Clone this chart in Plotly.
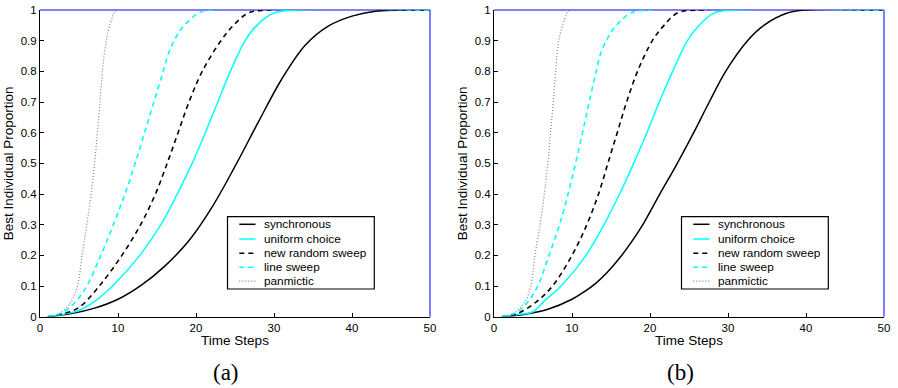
import plotly.graph_objects as go

# ---------------- data ----------------
SERIES_NAMES = ["synchronous", "uniform choice", "new random sweep", "line sweep", "panmictic"]

X_TICKS = [0, 10, 20, 30, 40, 50]
Y_TICKS = [0, 0.1, 0.2, 0.3, 0.4, 0.5, 0.6, 0.7, 0.8, 0.9, 1]

# Panel (a)
A_SYNC_T = [1, 4, 7, 10, 13, 16, 19, 22, 25, 28, 31, 34, 37, 40, 43, 50]
A_SYNC_Y = [0, 0.01, 0.028, 0.057, 0.103, 0.165, 0.245, 0.355, 0.49, 0.635, 0.775, 0.885, 0.948, 0.98, 0.996, 1]
A_UNIF_T = [1, 3, 5, 7, 9.3, 12.8, 15.5, 17.6, 19.5, 21.2, 22.8, 24.4, 26.3, 27.8, 30, 33, 50]
A_UNIF_Y = [0, 0.008, 0.02, 0.05, 0.1, 0.2, 0.3, 0.4, 0.5, 0.6, 0.7, 0.8, 0.9, 0.95, 0.99, 1, 1]
A_NRS_T = [1, 3, 5, 7.6, 10.5, 12.9, 14.8, 16.3, 17.7, 19.1, 20.8, 23.2, 24.8, 26.7, 29, 50]
A_NRS_Y = [0, 0.01, 0.03, 0.1, 0.2, 0.3, 0.4, 0.5, 0.6, 0.7, 0.8, 0.9, 0.95, 0.99, 1, 1]
A_LINE_T = [1, 3, 4.6, 6.0, 7.8, 9.4, 10.9, 12.2, 13.4, 14.6, 15.8, 16.5, 17.2, 18.0, 19.0, 20.3, 22, 50]
A_LINE_Y = [0, 0.015, 0.05, 0.1, 0.2, 0.3, 0.4, 0.5, 0.6, 0.7, 0.8, 0.86, 0.9, 0.935, 0.963, 0.99, 1, 1]
A_PAN_T = [1, 2.5, 4.0, 4.8, 5.4, 6.0, 6.55, 7.0, 7.35, 7.7, 8.0, 8.5, 9.2, 9.9, 50]
A_PAN_Y = [0, 0.01, 0.05, 0.1, 0.2, 0.3, 0.4, 0.5, 0.6, 0.7, 0.8, 0.9, 0.97, 1, 1]

# Panel (b)
B_SYNC_T = [1, 4, 7, 10, 11.5, 13, 14.5, 16, 17.5, 19, 21.2, 23.5, 25.6, 27.6, 29.7, 32.5, 34.6, 37.6, 40, 50]
B_SYNC_Y = [0, 0.008, 0.025, 0.057, 0.08, 0.108, 0.144, 0.188, 0.239, 0.297, 0.397, 0.5, 0.6, 0.7, 0.8, 0.9, 0.95, 0.99, 1, 1]
B_UNIF_T = [1, 3, 5, 6.4, 8.6, 11.8, 14.1, 16.1, 17.9, 19.6, 21.2, 22.9, 24.8, 26.3, 28.2, 31, 50]
B_UNIF_Y = [0, 0.007, 0.016, 0.05, 0.1, 0.2, 0.3, 0.4, 0.5, 0.6, 0.7, 0.8, 0.9, 0.95, 0.99, 1, 1]
B_NRS_T = [1, 3, 5.5, 7.5, 10.0, 11.9, 13.4, 14.6, 15.8, 17.0, 18.4, 20.3, 21.8, 23.5, 26, 50]
B_NRS_Y = [0, 0.01, 0.05, 0.1, 0.2, 0.3, 0.4, 0.5, 0.6, 0.7, 0.8, 0.9, 0.95, 0.99, 1, 1]
B_LINE_T = [1, 3, 4.4, 5.6, 7.05, 8.4, 9.5, 10.45, 11.35, 12.2, 13.1, 13.7, 14.4, 15.2, 16.2, 17.5, 19.7, 50]
B_LINE_Y = [0, 0.015, 0.05, 0.1, 0.2, 0.3, 0.4, 0.5, 0.6, 0.7, 0.8, 0.86, 0.9, 0.935, 0.963, 0.99, 1, 1]
B_PAN_T = [1, 2.5, 4.0, 4.7, 5.25, 5.9, 6.45, 6.9, 7.25, 7.6, 7.9, 8.3, 9.06, 9.8, 50]
B_PAN_Y = [0, 0.01, 0.05, 0.1, 0.2, 0.3, 0.4, 0.5, 0.6, 0.7, 0.8, 0.9, 0.97, 1, 1]

PANEL_LABELS = ["(a)", "(b)"]
X_TITLE = "Time Steps"
Y_TITLE = "Best Individual Proportion"

# ---------------- styles ----------------
CYAN = "#00ffff"
GREY = "#808080"
STYLES = [
    dict(color="black", width=1.5, dash="solid"),
    dict(color=CYAN, width=1.5, dash="solid"),
    dict(color="black", width=1.6, dash="5px,4px"),
    dict(color=CYAN, width=1.6, dash="5px,4px"),
    dict(color=GREY, width=1.2, dash="1px,2px"),
]

W, H = 898, 388
SANS = "Liberation Sans, Arial, sans-serif"

panels = [
    [(A_SYNC_T, A_SYNC_Y), (A_UNIF_T, A_UNIF_Y), (A_NRS_T, A_NRS_Y), (A_LINE_T, A_LINE_Y), (A_PAN_T, A_PAN_Y)],
    [(B_SYNC_T, B_SYNC_Y), (B_UNIF_T, B_UNIF_Y), (B_NRS_T, B_NRS_Y), (B_LINE_T, B_LINE_Y), (B_PAN_T, B_PAN_Y)],
]

# pixel geometry of the two axes boxes
AX_LEFT = [40, 494]
AX_W = 390
AX_TOP = 10
AX_BOTTOM = 316.7
AX_H = AX_BOTTOM - AX_TOP

fig = go.Figure()
shapes = []
annotations = []


def dx(px):
    return px / AX_W


def dy(py):
    return (AX_BOTTOM - py) / AX_H


for p, series in enumerate(panels):
    xa = "x" if p == 0 else "x2"
    ya = "y" if p == 0 else "y2"
    for i, (t, v) in enumerate(series):
        st = STYLES[i]
        fig.add_trace(go.Scatter(
            x=t, y=v, mode="lines", name=SERIES_NAMES[i], showlegend=False,
            line=dict(color=st["color"], width=st["width"], dash=st["dash"], shape="spline", smoothing=1.0),
            xaxis=xa, yaxis=ya, hoverinfo="skip",
        ))

    xd = f"{xa} domain"
    yd = f"{ya} domain"
    # blue top/right box edges
    shapes.append(dict(type="line", xref=xd, yref=yd, x0=0, x1=1, y0=1, y1=1,
                       line=dict(color="#0000ff", width=1), layer="below"))
    shapes.append(dict(type="line", xref=xd, yref=yd, x0=1, x1=1, y0=0, y1=1,
                       line=dict(color="#0000ff", width=1), layer="below"))

    # legend box (manual, matlab-like)
    shapes.append(dict(type="rect", xref=xd, yref=yd,
                       x0=dx(187.5), x1=dx(334.3), y0=dy(289), y1=dy(216.7),
                       line=dict(color="black", width=1.2), fillcolor="white", layer="above"))
    rows = [224.3, 239.0, 253.2, 267.3, 281.2]
    for i, ry in enumerate(rows):
        st = STYLES[i]
        shapes.append(dict(type="line", xref=xd, yref=yd,
                           x0=dx(199.3), x1=dx(215.5), y0=dy(ry), y1=dy(ry),
                           line=dict(color=st["color"], width=st["width"], dash=st["dash"]),
                           layer="above"))
        annotations.append(dict(text=SERIES_NAMES[i], xref=xd, yref=yd,
                                x=dx(221.5), y=dy(ry), xanchor="left", yanchor="middle",
                                showarrow=False, font=dict(family=SANS, size=11.8, color="black")))

    # panel caption
    annotations.append(dict(text=PANEL_LABELS[p], xref="paper", yref="paper",
                            x=(AX_LEFT[p] + 186) / W, y=(H - 372) / H,
                            xanchor="center", yanchor="middle", showarrow=False,
                            font=dict(family="Liberation Serif, DejaVu Serif, serif", size=23, color="black")))

axis_common = dict(
    showgrid=False, zeroline=False, showline=True, linecolor="black", linewidth=1,
    ticks="inside", ticklen=4, tickcolor="black", tickwidth=1, automargin=False,
    tickfont=dict(family=SANS, size=11.5, color="black"),
)

layout = dict(
    width=W, height=H, margin=dict(l=0, r=0, t=0, b=0, autoexpand=False),
    paper_bgcolor="white", plot_bgcolor="white", showlegend=False,
    shapes=shapes, annotations=annotations,
)
for p in range(2):
    sfx = "" if p == 0 else "2"
    x0 = AX_LEFT[p] / W
    x1 = (AX_LEFT[p] + AX_W) / W
    layout["xaxis" + sfx] = dict(
        axis_common, domain=[x0, x1], range=[0, 50], tickvals=X_TICKS,
        anchor="y" + sfx,
        title=dict(text=X_TITLE, font=dict(family=SANS, size=13.5, color="black"), standoff=2),
    )
    layout["yaxis" + sfx] = dict(
        axis_common, domain=[(H - AX_BOTTOM) / H, (H - AX_TOP) / H], range=[0, 1],
        tickvals=Y_TICKS, anchor="x" + sfx,
        title=dict(text=Y_TITLE, font=dict(family=SANS, size=13.5, color="black"), standoff=3),
    )

fig.update_layout(**layout)
fig.write_html("out.html")
